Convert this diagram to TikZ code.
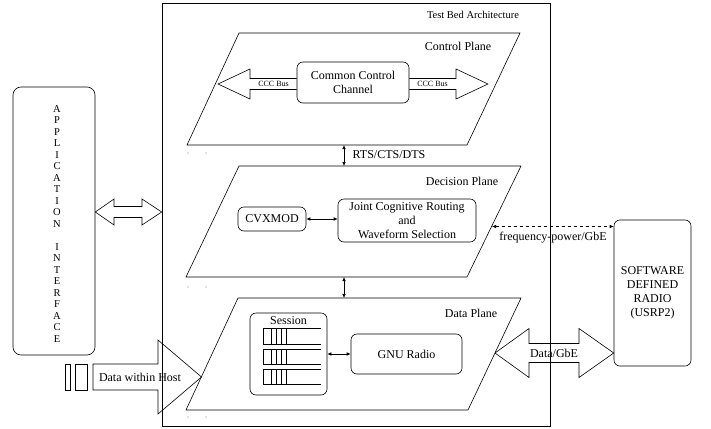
\documentclass[tikz,border=0pt]{standalone}
\usepackage{fontspec}
\setmainfont{Liberation Serif}
\usetikzlibrary{arrows.meta,calc}

\begin{document}
\begin{tikzpicture}[x=1pt,y=-1pt,line width=0.6pt,
    txt/.style={font=\fontsize{12}{14}\selectfont},
    rbox/.style={draw,rounded corners=6pt,align=center,inner sep=0pt,font=\fontsize{12}{14}\selectfont},
    small/.style={font=\fontsize{8}{9}\selectfont},
    tip/.style={{Latex[length=4pt,width=3.5pt]}-{Latex[length=4pt,width=3.5pt]}}]
    \useasboundingbox (0,0) rectangle (711,428);

    % test bed frame
    \node[draw,minimum width=388,minimum height=423,inner sep=0pt] (bed) at (356,214.5) {};
    \node[font=\fontsize{10.5}{12}\selectfont] (bedlbl) at (473,15) {Test Bed Architecture};

    % planes
    \draw (239,33) -- (520,33) -- (467,145) -- (187,145) -- cycle;
    \draw (239,166) -- (521,166) -- (467,277) -- (186,277) -- cycle;
    \draw (238,298) -- (521,298) -- (468,410) -- (186,410) -- cycle;
    \node[txt] (ctrllbl) at (458,46) {Control Plane};
    \node[txt] (declbl) at (462,181) {Decision Plane};
    \node[txt] (datalbl) at (471,313) {Data Plane};
    \foreach \y in {153,287,417} {
        \fill[gray] (188,\y) circle (0.7);
        \fill[gray] (206,\y) circle (0.7);
    }
    \coordinate (ctrlb) at (344,145);
    \coordinate (dect) at (344,166);
    \coordinate (decb) at (344,277);
    \coordinate (datat) at (344,298);
    \coordinate (decr) at (492,226.5);
    \coordinate (datar) at (495,353);
    \coordinate (datal) at (201.5,377);

    % control plane
    \node[rbox,minimum width=112,minimum height=41] (ccc) at (353,82.5) {Common Control\\Channel};
    \draw (ccc.west |- 0,78.5) -- (250,78.5) -- (250,69) -- (218,84) -- (250,99) -- (250,89.5) -- (ccc.west |- 0,89.5);
    \draw (ccc.east |- 0,78.5) -- (456,78.5) -- (456,69) -- (488,84) -- (456,99) -- (456,89.5) -- (ccc.east |- 0,89.5);
    \node[small] (busl) at (273.5,84) {CCC Bus};
    \node[small] (busr) at (432.5,84) {CCC Bus};

    % decision plane
    \node[rbox,minimum width=68,minimum height=24] (cvx) at (272,219) {CVXMOD};
    \node[rbox,minimum width=138,minimum height=43] (joint) at (407,220.5) {Joint Cognitive Routing\\and\\Waveform Selection};
    \draw[tip] (cvx.east) -- (cvx.east -| joint.west);

    % data plane
    \node[rbox,minimum width=77,minimum height=82] (sess) at (288.5,354) {};
    \node[txt] (sesslbl) at (288.5,321) {Session};
    \foreach \t/\b in {328/344,349/364,369/384} {
        \draw (321,\t) -- (263,\t) -- (263,\b) -- (321,\b);
        \foreach \x in {271,276,281,286}
            \draw (\x,\t) -- (\x,\b);
    }
    \node[rbox,minimum width=111,minimum height=40] (gnu) at (406.5,354) {GNU Radio};
    \draw[tip] (sess.east) -- (gnu.west);

    % links between planes
    \draw[tip] (ctrlb) -- (dect);
    \node[txt,anchor=west] (rts) at (349,155) {RTS/CTS/DTS};
    \draw[tip] (decb) -- (datat);

    % software defined radio
    \node[rbox,minimum width=77,minimum height=146,font=\fontsize{12}{14}\selectfont] (sdr) at (652.5,293) {SOFTWARE\\DEFINED\\RADIO\\(USRP2)};
    \draw[tip,dashed] (decr) -- (sdr.west |- decr);
    \node[txt] (freq) at (553,237.5) {frequency-power/GbE};
    \draw (datar) -- (529,328.5) -- (529,343.5) -- (579,343.5) -- (579,328.5) -- (sdr.west |- datar)
        -- (579,377.5) -- (579,362.5) -- (529,362.5) -- (529,377.5) -- cycle;
    \node[txt] (gbe) at (554,353) {Data/GbE};

    % application interface
    \node[draw,rounded corners=8pt,minimum width=82,minimum height=268] (app) at (54,221) {};
    \node[align=center,font=\fontsize{10.5}{11.5}\selectfont] (applbl) at (57,224)
        {A\\P\\P\\L\\I\\C\\A\\T\\I\\O\\N\\[11.5pt]I\\N\\T\\E\\R\\F\\A\\C\\E};
    \draw (app.east |- 0,212) -- (114,199) -- (114,206.5) -- (142,206.5) -- (142,199) -- (bed.west |- 0,212)
        -- (142,225) -- (142,217.5) -- (114,217.5) -- (114,225) -- cycle;

    % data within host
    \draw (65,364) rectangle (70,390);
    \draw (75,364) rectangle (87,390);
    \draw (93,364) -- (158,364) -- (158,340) -- (datal) -- (158,414) -- (158,390) -- (93,390) -- cycle;
    \node[txt] (hostlbl) at (140,377) {Data within Host};
\end{tikzpicture}
\end{document}
